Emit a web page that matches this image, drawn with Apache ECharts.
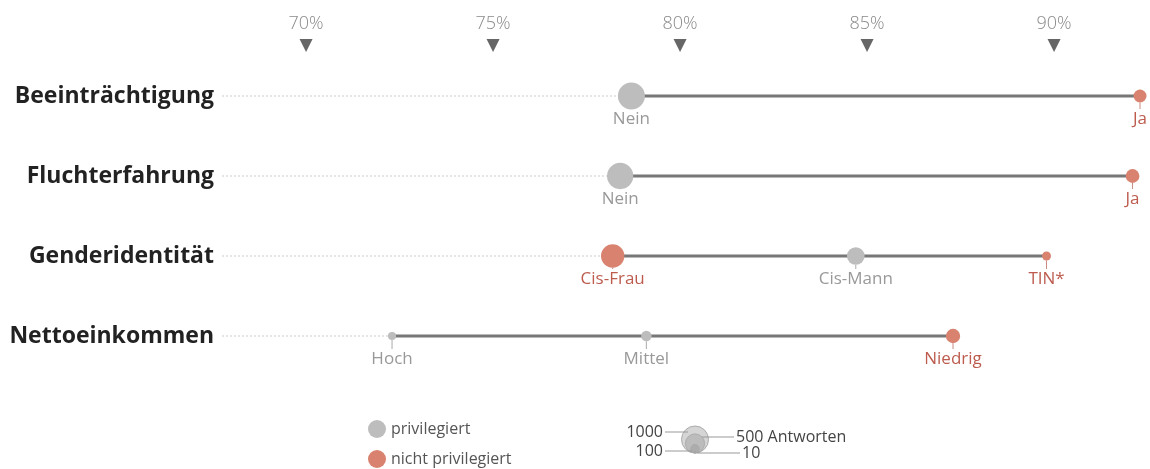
<!DOCTYPE html>
<html lang="de">
<head>
    <meta charset="UTF-8">
    <title>Privilegien</title>
    <script src="https://cdn.jsdelivr.net/npm/echarts@6/dist/echarts.min.js"></script>
    <style>
        body, html { padding: 0; margin: 0; background: #fff; }
    </style>
</head>
<body>
    <div id="chart" style="width:1150px;height:469px;"></div>
    <script>
        // Zeilen
        var categories = ['Beeinträchtigung', 'Fluchterfahrung', 'Genderidentität', 'Nettoeinkommen'];
        // Achsen-Ticks oben (%)
        var tickValues = [70, 75, 80, 85, 90];

        // Punkte
        var pointRow = [0, 0, 1, 1, 2, 2, 2, 3, 3, 3];
        var pointName = ['Nein', 'Ja', 'Nein', 'Ja', 'Cis-Frau', 'Cis-Mann', 'TIN*', 'Hoch', 'Mittel', 'Niedrig'];
        var pointPct = [78.7, 92.3, 78.4, 92.1, 78.2, 84.7, 89.8, 72.3, 79.1, 87.3];
        var pointCount = [1000, 230, 950, 260, 750, 430, 110, 90, 150, 280];
        var pointPrivileged = [true, false, true, false, false, true, false, true, true, false];

        // Groessenlegende
        var sizeLegendValues = [1000, 500, 100, 10];

        var GRAY = '#bdbdbd', RED = '#d9826f';
        var GRAY_TXT = '#999', RED_TXT = '#bc5b4e';
        var FONT = 'Open Sans';

        function diam(n) { return 27 * Math.sqrt(n / 1000); }

        var rowData = categories.map(function (c, r) {
            var vals = pointPct.filter(function (v, i) { return pointRow[i] === r; });
            return [r, Math.min.apply(null, vals), Math.max.apply(null, vals)];
        });

        function pts(priv) {
            var out = [];
            pointPct.forEach(function (v, i) {
                if (pointPrivileged[i] === priv) out.push([v, pointRow[i], pointCount[i]]);
            });
            return out;
        }

        var myChart = echarts.init(document.getElementById('chart'));

        // Groessenlegende (Kreise verschachtelt, unten buendig)
        var cx = 695, base = 453;
        var legendEls = [];
        sizeLegendValues.forEach(function (n) {
            var r = diam(n) / 2;
            legendEls.push({
                type: 'circle', shape: { cx: cx, cy: base - r, r: r },
                style: { fill: 'rgba(150,150,150,0.4)', stroke: '#aaa', lineWidth: 1 }
            });
        });
        var txt = { fill: '#444', fontSize: 16, fontFamily: FONT, verticalAlign: 'middle' };
        legendEls.push(
            { type: 'line', shape: { x1: 665, y1: 432, x2: 688, y2: 432 }, style: { stroke: '#999', lineWidth: 1 } },
            { type: 'line', shape: { x1: 665, y1: 451, x2: 692, y2: 451 }, style: { stroke: '#999', lineWidth: 1 } },
            { type: 'line', shape: { x1: 702, y1: 437, x2: 734, y2: 437 }, style: { stroke: '#999', lineWidth: 1 } },
            { type: 'line', shape: { x1: 697, y1: 453, x2: 740, y2: 453 }, style: { stroke: '#999', lineWidth: 1 } },
            { type: 'text', x: 663, y: 432, style: Object.assign({ text: '1000', align: 'right' }, txt) },
            { type: 'text', x: 663, y: 451, style: Object.assign({ text: '100', align: 'right' }, txt) },
            { type: 'text', x: 736, y: 437, style: Object.assign({ text: '500 Antworten', align: 'left' }, txt) },
            { type: 'text', x: 742, y: 453, style: Object.assign({ text: '10', align: 'left' }, txt) }
        );

        function legendAt(name, top) {
            return {
                data: [name],
                left: 363, top: top,
                icon: 'circle',
                itemWidth: 18, itemHeight: 18,
                selectedMode: false,
                textStyle: { fontSize: 16, color: '#555', fontFamily: FONT }
            };
        }

        myChart.setOption({
            animation: false,
            textStyle: { fontFamily: FONT },
            grid: { left: 220, right: 2.5, top: 56, height: 320 },
            legend: [legendAt('privilegiert', 415), legendAt('nicht privilegiert', 445)],
            xAxis: {
                type: 'value',
                position: 'top',
                min: 67.7,
                max: 92.5,
                axisLine: { show: false },
                axisTick: { show: false },
                splitLine: { show: false },
                axisLabel: {
                    customValues: tickValues,
                    margin: 0,
                    formatter: function (v) { return '{p|' + v + '%}\n{t|▼}'; },
                    rich: {
                        p: { fontSize: 18, fontWeight: 300, color: '#8a8a8a', lineHeight: 24, fontFamily: FONT },
                        t: { fontSize: 17, color: '#666', lineHeight: 20, fontFamily: 'DejaVu Sans' }
                    }
                }
            },
            yAxis: {
                type: 'category',
                data: categories,
                inverse: true,
                axisLine: { show: false },
                axisTick: { show: false },
                axisLabel: { margin: 6, fontSize: 23, fontWeight: 'bold', color: '#222', fontFamily: FONT }
            },
            graphic: legendEls,
            series: [
                {
                    type: 'custom',
                    name: 'linien',
                    silent: true,
                    z: 1,
                    encode: { x: [1, 2], y: 0 },
                    data: rowData,
                    renderItem: function (params, api) {
                        var row = api.value(0);
                        var a = api.coord([api.value(1), row]);
                        var b = api.coord([api.value(2), row]);
                        var x0 = params.coordSys.x + 2;
                        return {
                            type: 'group', children: [
                                { type: 'line', shape: { x1: x0, y1: a[1], x2: a[0], y2: a[1] },
                                  style: { stroke: '#ccc', lineWidth: 1, lineDash: [2, 2] } },
                                { type: 'line', shape: { x1: a[0], y1: a[1], x2: b[0], y2: b[1] },
                                  style: { stroke: '#777', lineWidth: 3 } }
                            ]
                        };
                    }
                },
                {
                    type: 'custom',
                    name: 'beschriftung',
                    silent: true,
                    z: 2,
                    encode: { x: 0, y: 1 },
                    data: pointPct.map(function (v, i) { return [v, pointRow[i]]; }),
                    renderItem: function (params, api) {
                        var i = params.dataIndex;
                        var p = api.coord([api.value(0), api.value(1)]);
                        var r = diam(pointCount[i]) / 2;
                        var priv = pointPrivileged[i];
                        var kids = [];
                        if (r < 13) {
                            kids.push({ type: 'line', shape: { x1: p[0], y1: p[1] + r, x2: p[0], y2: p[1] + 13 },
                                        style: { stroke: priv ? '#aaa' : '#c98a80', lineWidth: 1 } });
                        }
                        kids.push({ type: 'text', x: p[0], y: p[1] + 23,
                                    style: { text: pointName[i], fill: priv ? GRAY_TXT : RED_TXT,
                                             fontSize: 17, fontFamily: FONT, align: 'center', verticalAlign: 'middle' } });
                        return { type: 'group', children: kids };
                    }
                },
                {
                    type: 'scatter',
                    name: 'privilegiert',
                    z: 3,
                    clip: false,
                    itemStyle: { color: GRAY, opacity: 1 },
                    symbolSize: function (v) { return diam(v[2]); },
                    data: pts(true)
                },
                {
                    type: 'scatter',
                    name: 'nicht privilegiert',
                    z: 3,
                    clip: false,
                    itemStyle: { color: RED, opacity: 1 },
                    symbolSize: function (v) { return diam(v[2]); },
                    data: pts(false)
                }
            ]
        });
    </script>
</body>
</html>
